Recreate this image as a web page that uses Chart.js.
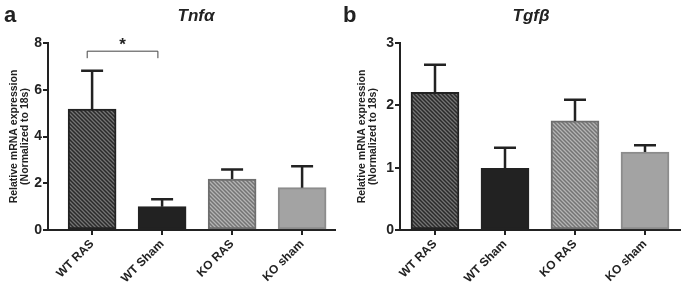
<!DOCTYPE html>
<html>
<head>
<meta charset="utf-8">
<script src="https://cdn.jsdelivr.net/npm/chart.js@4"></script>
<style>
  html, body { margin: 0; padding: 0; background: #fff; }
  #wrap { position: relative; width: 685px; height: 290px; }
  .panel { position: absolute; top: 0; height: 290px; }
</style>
</head>
<body>
<div id="wrap">
  <div class="panel" style="left:0;width:342px"><canvas id="tnfChart"></canvas></div>
  <div class="panel" style="left:342px;width:343px"><canvas id="tgfChart"></canvas></div>
</div>
<script>
const groups = ['WT RAS', 'WT Sham', 'KO RAS', 'KO sham'];
const positions = [0, 1, 2, 3];

const tnfMeans = [5.17, 1.0, 2.18, 1.81];
const tnfErrors = [1.64, 0.32, 0.41, 0.92];
const tnfTicks = [0, 2, 4, 6, 8];

const tgfMeans = [2.21, 0.99, 1.75, 1.25];
const tgfErrors = [0.44, 0.33, 0.34, 0.11];
const tgfTicks = [0, 1, 2, 3];

const ink = '#222222';
const fontFamily = 'Arial, "Liberation Sans", Helvetica, sans-serif';

// small tile with "\" stripes, used as bar fill
function hatch(base, stripe) {
    const c = document.createElement('canvas');
    c.width = 4;
    c.height = 4;
    const g = c.getContext('2d');
    g.fillStyle = base;
    g.fillRect(0, 0, 4, 4);
    g.strokeStyle = stripe;
    g.lineWidth = 1.3;
    g.beginPath();
    g.moveTo(-1, -1); g.lineTo(5, 5);
    g.moveTo(-1, 3); g.lineTo(1, 5);
    g.moveTo(3, -1); g.lineTo(5, 1);
    g.stroke();
    return g.createPattern(c, 'repeat');
}

const fills = [
    hatch('#2a2a2a', '#747474'),
    '#222222',
    hatch('#747474', '#b4b4b4'),
    '#a3a3a3'
];
const borders = ['#222222', '#222222', '#6e6e6e', '#8c8c8c'];

const errorBars = {
    id: 'errorBars',
    afterDatasetsDraw(chart, args, opts) {
        const ctx = chart.ctx;
        const meta = chart.getDatasetMeta(0);
        const yScale = chart.scales.y;
        const means = chart.data.datasets[0].data.map(p => p.y);
        ctx.save();
        ctx.strokeStyle = ink;
        ctx.lineWidth = 2.5;
        meta.data.forEach((bar, i) => {
            const top = yScale.getPixelForValue(means[i] + opts.errors[i]);
            const base = yScale.getPixelForValue(means[i]);
            ctx.beginPath();
            ctx.moveTo(bar.x, base);
            ctx.lineTo(bar.x, top);
            ctx.moveTo(bar.x - 11, top);
            ctx.lineTo(bar.x + 11, top);
            ctx.stroke();
        });
        ctx.restore();
    }
};

const headings = {
    id: 'headings',
    afterDraw(chart, args, opts) {
        const ctx = chart.ctx;
        ctx.save();
        ctx.fillStyle = ink;
        ctx.textBaseline = 'alphabetic';
        ctx.textAlign = 'left';
        ctx.font = 'bold 22px ' + fontFamily;
        ctx.fillText(opts.letter, opts.letterX, 22);
        ctx.textAlign = 'center';
        ctx.font = 'italic bold 17px ' + fontFamily;
        ctx.fillText(opts.title, opts.titleX, 21);
        if (opts.bracket) {
            const xs = chart.scales.x;
            const ys = chart.scales.y;
            const b = opts.bracket;
            const x1 = xs.getPixelForValue(b.from);
            const x2 = xs.getPixelForValue(b.to);
            const y = ys.getPixelForValue(b.level);
            const yEnd = ys.getPixelForValue(b.level - 0.3);
            ctx.strokeStyle = '#444';
            ctx.lineWidth = 1;
            ctx.beginPath();
            ctx.moveTo(x1, yEnd);
            ctx.lineTo(x1, y);
            ctx.lineTo(x2, y);
            ctx.lineTo(x2, yEnd);
            ctx.stroke();
            ctx.font = 'bold 17px ' + fontFamily;
            ctx.fillText('*', (x1 + x2) / 2, y - 1);
        }
        ctx.restore();
    }
};

function buildChart(id, means, errors, ticks, cfg) {
    const ctx = document.getElementById(id).getContext('2d');
    return new Chart(ctx, {
        type: 'bar',
        data: {
            datasets: [{
                data: positions.map((x, i) => ({ x: x, y: means[i] })),
                backgroundColor: fills,
                borderColor: borders,
                borderWidth: 2,
                borderSkipped: false,
                barThickness: 48
            }]
        },
        plugins: [errorBars, headings],
        options: {
            responsive: true,
            maintainAspectRatio: false,
            animation: false,
            layout: { padding: { top: 43, right: cfg.padRight, left: 0, bottom: 0 } },
            plugins: {
                legend: { display: false },
                tooltip: { enabled: false },
                errorBars: { errors: errors },
                headings: cfg.headings
            },
            scales: {
                x: {
                    type: 'linear',
                    offset: false,
                    min: cfg.xMin,
                    max: cfg.xMax,
                    afterBuildTicks: axis => { axis.ticks = positions.map(v => ({ value: v })); },
                    afterFit: scale => { scale.height = 60; },
                    grid: { offset: false, drawOnChartArea: false, drawTicks: true, tickLength: 5, color: ink, lineWidth: 2 },
                    border: { display: true, color: ink, width: 2 },
                    ticks: {
                        autoSkip: false,
                        maxRotation: 45,
                        minRotation: 45,
                        padding: 2,
                        color: ink,
                        font: { family: fontFamily, size: 12, weight: 'bold' },
                        callback: v => groups[v]
                    }
                },
                y: {
                    min: 0,
                    max: ticks[ticks.length - 1],
                    afterBuildTicks: axis => { axis.ticks = ticks.map(v => ({ value: v })); },
                    afterFit: scale => { scale.width = cfg.yWidth; },
                    grid: { drawOnChartArea: false, drawTicks: true, tickLength: 5, color: ink, lineWidth: 2 },
                    border: { display: true, color: ink, width: 2 },
                    ticks: {
                        padding: 1,
                        color: ink,
                        font: { family: fontFamily, size: 14, weight: 'bold' }
                    },
                    title: {
                        display: true,
                        text: ['Relative mRNA expression', '(Normalized to 18s)'],
                        color: ink,
                        font: { family: fontFamily, size: 10.5, weight: 'bold', lineHeight: 1.0 },
                        padding: { top: cfg.titlePad, bottom: 0 }
                    }
                }
            }
        }
    });
}

buildChart('tnfChart', tnfMeans, tnfErrors, tnfTicks, {
    padRight: 7,
    yWidth: 48,
    titlePad: 9,
    xMin: -0.63,
    xMax: 3.47,
    headings: { letter: 'a', letterX: 4, title: 'Tnfα', titleX: 196, bracket: { from: -0.07, to: 0.94, level: 7.65 } }
});

buildChart('tgfChart', tgfMeans, tgfErrors, tgfTicks, {
    padRight: 5,
    yWidth: 58,
    titlePad: 15,
    xMin: -0.5,
    xMax: 3.5,
    headings: { letter: 'b', letterX: 1, title: 'Tgfβ', titleX: 189 }
});
</script>
</body>
</html>
